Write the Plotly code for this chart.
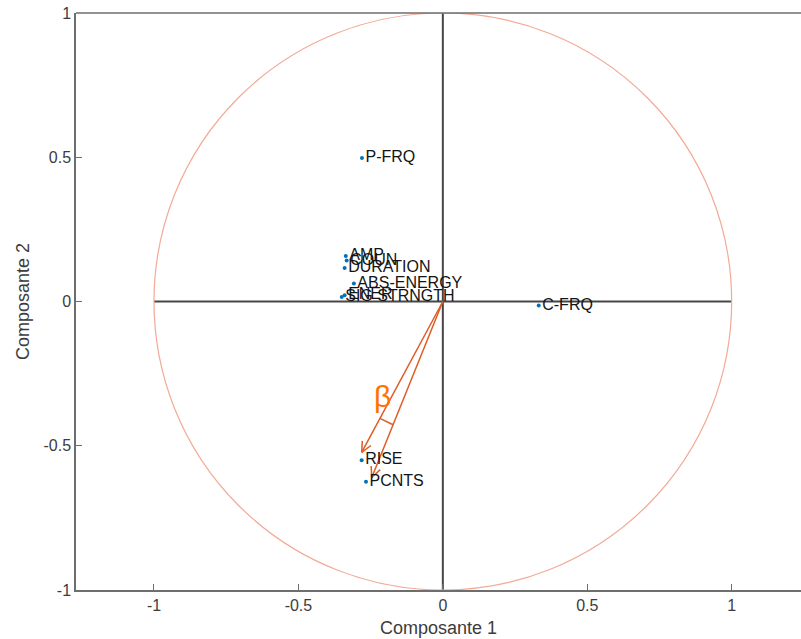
import numpy as np
import plotly.graph_objects as go

# ---- data ----
var_labels = ["P-FRQ", "AMP", "COUN", "DURATION", "ABS-ENERGY", "ENER", "SIG STRNGTH", "C-FRQ", "RISE", "PCNTS"]
comp1 = [-0.28, -0.336, -0.333, -0.34, -0.308, -0.34, -0.35, 0.332, -0.281, -0.266]
comp2 = [0.497, 0.158, 0.142, 0.116, 0.062, 0.022, 0.016, -0.014, -0.55, -0.625]

arrow_x = [-0.281, -0.246]
arrow_y = [-0.523, -0.610]
beta_label = "β"
beta_pos = (-0.21, -0.33)
arc_radius = 0.46

axis_extent = [-1, 1]
tick_vals = [-1, -0.5, 0, 0.5, 1]
tick_text = ["-1", "-0.5", "0", "0.5", "1"]

BLUE = "rgb(0,114,189)"
ORANGE = "rgb(222,92,38)"
BETA_COL = "rgb(255,115,0)"
CIRCLE = "rgb(242,170,150)"
AXC = "rgb(70,70,70)"
FONT = "Liberation Sans, Arial"

fig = go.Figure()

# reference cross
fig.add_trace(go.Scatter(x=axis_extent, y=[0, 0], mode="lines",
                         line=dict(color=AXC, width=2), hoverinfo="skip"))
fig.add_trace(go.Scatter(x=[0, 0], y=axis_extent, mode="lines",
                         line=dict(color=AXC, width=2), hoverinfo="skip"))

# arrows (shaft + open V head)
for ax_, ay_ in zip(arrow_x, arrow_y):
    ang = np.arctan2(ay_, ax_)
    hl = 0.04
    xs = [0, ax_, None]
    ys = [0, ay_, None]
    for d in (np.radians(25), -np.radians(25)):
        xs += [ax_, ax_ - hl * np.cos(ang + d), None]
        ys += [ay_, ay_ - hl * np.sin(ang + d), None]
    fig.add_trace(go.Scatter(x=xs, y=ys, mode="lines",
                             line=dict(color=ORANGE, width=1.5), hoverinfo="skip"))

# angle arc
a1 = np.arctan2(arrow_y[0], arrow_x[0])
a2 = np.arctan2(arrow_y[1], arrow_x[1])
th = np.linspace(a1, a2, 20)
fig.add_trace(go.Scatter(x=arc_radius * np.cos(th), y=arc_radius * np.sin(th), mode="lines",
                         line=dict(color=ORANGE, width=1.5), hoverinfo="skip"))

# variable points and labels
fig.add_trace(go.Scatter(x=comp1, y=comp2, mode="markers+text", text=var_labels,
                         textposition="middle right",
                         textfont=dict(family=FONT, size=16, color="rgb(20,20,20)"),
                         marker=dict(color=BLUE, size=4), cliponaxis=False))

fig.add_annotation(x=beta_pos[0], y=beta_pos[1], text=beta_label, showarrow=False,
                   font=dict(family=FONT, size=30, color=BETA_COL))

# unit circle
fig.add_shape(type="circle", xref="x", yref="y", x0=-1, y0=-1, x1=1, y1=1,
              line=dict(color=CIRCLE, width=1.2), layer="above")
# top frame line
fig.add_shape(type="line", xref="paper", yref="paper", x0=0, x1=1, y0=1, y1=1,
              line=dict(color="rgb(110,110,110)", width=1.5))

axis_font = dict(family=FONT, size=16, color="rgb(60,60,60)")
title_font = dict(family=FONT, size=18, color="rgb(60,60,60)")
fig.update_layout(
    width=801, height=639,
    margin=dict(l=76, r=0, t=13, b=49, autoexpand=False),
    paper_bgcolor="white", plot_bgcolor="white",
    showlegend=False,
    xaxis=dict(range=[-1.27, 1.24], tickvals=tick_vals, ticktext=tick_text,
               ticks="inside", ticklen=6, tickcolor="rgb(110,110,110)",
               showline=True, linecolor="rgb(110,110,110)", linewidth=1.5,
               showgrid=False, zeroline=False, tickfont=axis_font, automargin=False,
               title=dict(text="Composante 1", font=title_font, standoff=8)),
    yaxis=dict(range=[-1, 1], tickvals=tick_vals, ticktext=tick_text,
               ticks="inside", ticklen=6, tickcolor="rgb(110,110,110)",
               showline=True, linecolor="rgb(110,110,110)", linewidth=1.5,
               showgrid=False, zeroline=False, tickfont=axis_font, automargin=False,
               title=dict(text="Composante 2", font=title_font, standoff=9)),
)

fig.write_html("out.html", config={"displayModeBar": False},
               post_script="document.body.style.margin='0px';document.body.style.overflow='hidden';")
